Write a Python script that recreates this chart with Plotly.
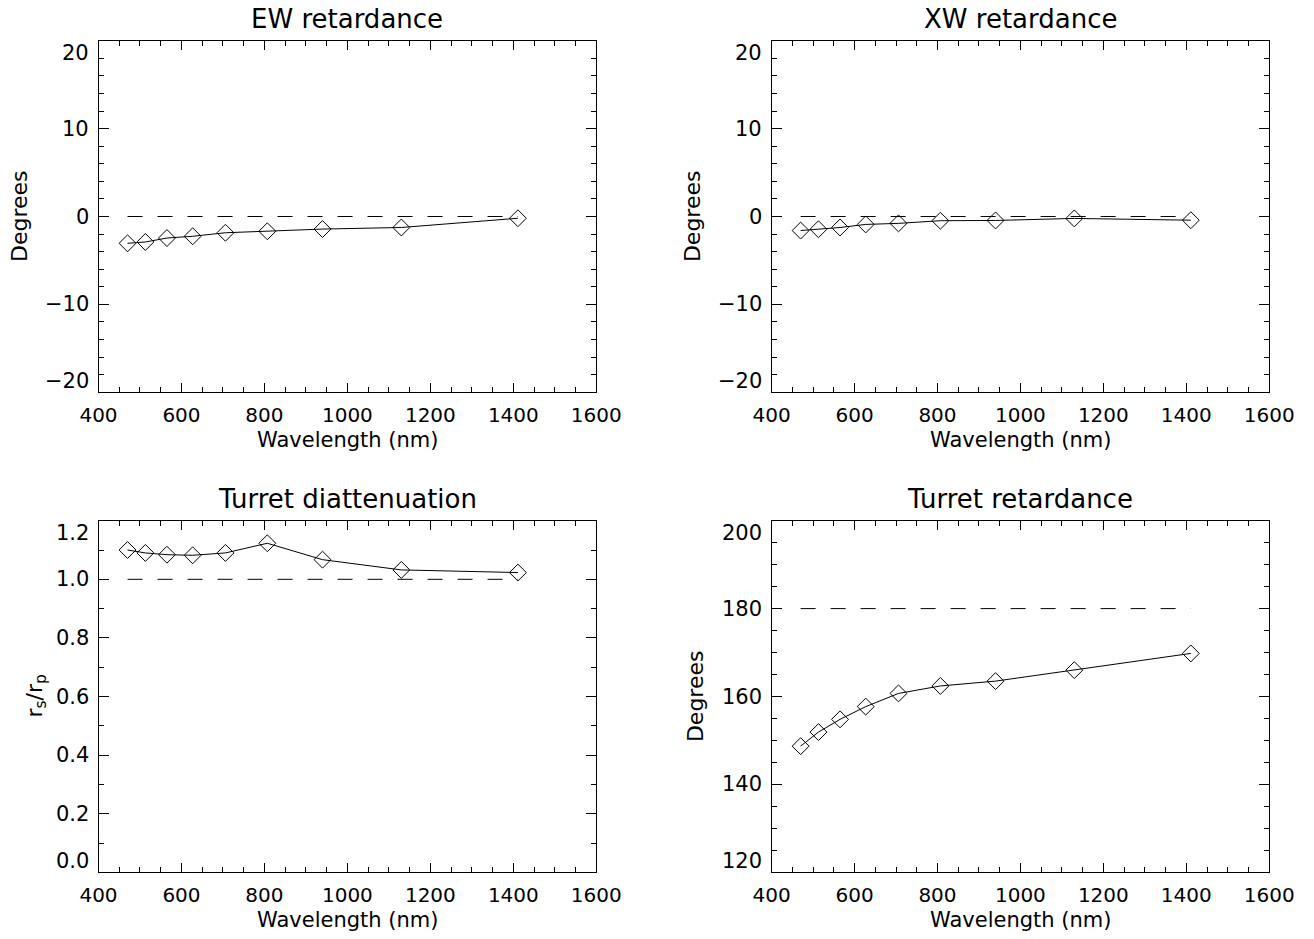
import plotly.graph_objects as go

# ---------------- data ----------------
wavelength = [470, 513, 565, 627, 706, 807, 940, 1130, 1411]
ew_retardance = [-3.05, -2.9, -2.45, -2.25, -1.85, -1.68, -1.43, -1.25, -0.2]
xw_retardance = [-1.6, -1.45, -1.25, -0.9, -0.78, -0.48, -0.45, -0.22, -0.42]
turret_diattenuation = [1.10, 1.09, 1.084, 1.082, 1.09, 1.123, 1.067, 1.032, 1.023]
turret_retardance = [148.7, 151.9, 154.8, 157.7, 160.7, 162.4, 163.5, 166.0, 169.8]

panel_titles = ["EW retardance", "XW retardance", "Turret diattenuation", "Turret retardance"]
y_titles = ["Degrees", "Degrees", "r<sub>s</sub>/r<sub>p</sub>", "Degrees"]
reference_levels = [0, 0, 1.0, 180]
y_ranges = [[-20, 20], [-20, 20], [0.0, 1.2], [120, 200]]
y_major = [10, 10, 0.2, 20]
y_minor = [2, 2, 0.1, 5]
y_tick_fmt = ["{:.0f}", "{:.0f}", "{:.1f}", "{:.0f}"]
x_range = [400, 1600]
x_major = 200
x_minor = 50
x_title = "Wavelength (nm)"

series = [ew_retardance, xw_retardance, turret_diattenuation, turret_retardance]

# ---------------- layout geometry (pixels) ----------------
W, H = 1314, 939
FONT = "DejaVu Sans"
col_px = [(98.5, 596.3), (771.6, 1269.2)]
row_px = [(40.7, 392.3), (520.7, 872.3)]
ytitle_offset = [79, 79, 62.5, 76]


def fx(p):
    return p / W


def fy(p):
    return 1 - p / H


fig = go.Figure()
annotations = []
layout = {}

for i in range(4):
    r, c = divmod(i, 2)
    n = i + 1
    xa = "x" if n == 1 else f"x{n}"
    ya = "y" if n == 1 else f"y{n}"
    xkey = "xaxis" if n == 1 else f"xaxis{n}"
    ykey = "yaxis" if n == 1 else f"yaxis{n}"
    x0, x1 = col_px[c]
    y0, y1 = row_px[r]

    # reference dashed line
    fig.add_trace(go.Scatter(
        x=[wavelength[0], wavelength[-1]],
        y=[reference_levels[i], reference_levels[i]],
        mode="lines", line=dict(color="black", width=1, dash="15px,15px"),
        xaxis=xa, yaxis=ya, showlegend=False, hoverinfo="skip"))
    # data
    fig.add_trace(go.Scatter(
        x=wavelength, y=series[i], mode="lines+markers",
        line=dict(color="black", width=1),
        marker=dict(symbol="diamond-open", size=13, color="black",
                    line=dict(width=1, color="black")),
        xaxis=xa, yaxis=ya, showlegend=False))

    common = dict(showline=True, linecolor="black", linewidth=1, mirror="ticks",
                  ticks="inside", tickcolor="black", tickwidth=1, showgrid=False,
                  zeroline=False, automargin=False)
    layout[xkey] = dict(
        domain=[fx(x0), fx(x1)], range=x_range, anchor=ya,
        tick0=400, dtick=x_major, ticklen=9,
        minor=dict(dtick=x_minor, ticklen=5, ticks="inside", tickcolor="black",
                   tickwidth=1, showgrid=False),
        tickfont=dict(family=FONT, size=20, color="black"),
        ticklabelstandoff=5,
        **common)
    lo, hi = y_ranges[i]
    layout[ykey] = dict(
        domain=[fy(y1), fy(y0)], range=[lo, hi], anchor=xa,
        tick0=lo, dtick=y_major[i], ticklen=10, showticklabels=False,
        minor=dict(dtick=y_minor[i], ticklen=5, ticks="inside", tickcolor="black",
                   tickwidth=1, showgrid=False),
        **common)

    # y tick labels (IDL style: end labels kept inside axis extent)
    nt = int(round((hi - lo) / y_major[i]))
    for k in range(nt + 1):
        v = round(lo + k * y_major[i], 6)
        if k == 0:
            yanc, ysh = "bottom", -3
        elif k == nt:
            yanc, ysh = "top", 2
        else:
            yanc, ysh = "middle", 0
        txt = y_tick_fmt[i].format(v).replace("-", "\u2212")
        annotations.append(dict(
            text=txt, xref=f"{xa} domain", yref=ya, x=0, y=v,
            xanchor="right", yanchor=yanc, xshift=-8, yshift=ysh, showarrow=False,
            font=dict(family=FONT, size=21, color="black")))

    # panel title
    annotations.append(dict(
        text=panel_titles[i], xref="paper", yref="paper",
        x=fx((x0 + x1) / 2), y=fy(y0 - 22), xanchor="center", yanchor="middle",
        showarrow=False, font=dict(family=FONT, size=26, color="black")))
    # x title
    annotations.append(dict(
        text=x_title, xref="paper", yref="paper",
        x=fx((x0 + x1) / 2), y=fy(y1 + 48), xanchor="center", yanchor="middle",
        showarrow=False, font=dict(family=FONT, size=21, color="black")))
    # y title
    annotations.append(dict(
        text=y_titles[i], xref="paper", yref="paper",
        x=fx(x0 - ytitle_offset[i]), y=fy((y0 + y1) / 2), xanchor="center",
        yanchor="middle", textangle=-90, showarrow=False,
        font=dict(family=FONT, size=22, color="black")))

fig.update_layout(
    width=W, height=H, margin=dict(l=0, r=0, t=0, b=0),
    paper_bgcolor="white", plot_bgcolor="white",
    font=dict(family=FONT, color="black"),
    annotations=annotations, showlegend=False, **layout)

fig.write_html("out.html", config={"displayModeBar": False},
               post_script="document.body.style.margin='0px';"
                           "document.body.style.overflow='hidden';")
